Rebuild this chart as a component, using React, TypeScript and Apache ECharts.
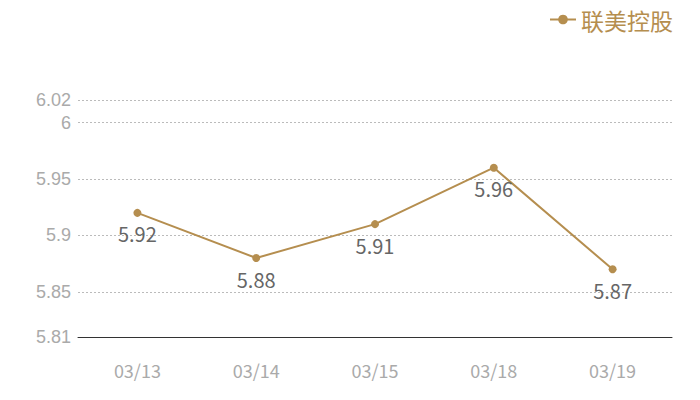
import React, { useEffect, useRef } from "react";
import * as echarts from "echarts";

const categories = ["03/13", "03/14", "03/15", "03/18", "03/19"];
const values = [5.92, 5.88, 5.91, 5.96, 5.87];
const seriesName = "联美控股";
const yMin = 5.81;
const yMax = 6.02;

const GOLD = "#b58e4f";
const FONT = "'Noto Sans CJK SC', 'Noto Sans', sans-serif";
const NUM_FONT = "'Liberation Sans', Arial, sans-serif";

export default function App() {
  const ref = useRef<HTMLDivElement>(null);
  useEffect(() => {
    if (!ref.current) return;
    const chart = echarts.init(ref.current, undefined, { renderer: "svg" });
    chart.setOption({
      animation: false,
      textStyle: { fontFamily: FONT },
      legend: {
        right: 22,
        top: 3,
        itemWidth: 26,
        itemHeight: 12,
        itemGap: 10,
        textStyle: { color: GOLD, fontSize: 23, fontFamily: FONT },
        data: [seriesName],
      },
      grid: { left: 78, right: 28, top: 100, bottom: 63 },
      xAxis: {
        type: "category",
        data: categories,
        boundaryGap: true,
        axisLine: { lineStyle: { color: "#333", width: 1 } },
        axisTick: { show: false },
        axisLabel: { color: "#aaa", fontSize: 18, margin: 24, fontFamily: FONT },
      },
      yAxis: {
        type: "value",
        min: yMin,
        max: yMax,
        axisLine: { show: false },
        axisTick: { show: false },
        axisLabel: { color: "#aaa", fontSize: 18, lineHeight: 18, margin: 7, fontFamily: NUM_FONT },
        splitLine: { lineStyle: { color: "#bbb", type: [2, 2], width: 1 } },
      },
      series: [
        {
          name: seriesName,
          type: "line",
          data: values,
          symbol: "circle",
          symbolSize: 8,
          itemStyle: { color: GOLD },
          lineStyle: { color: GOLD, width: 2 },
          label: {
            show: true,
            position: "bottom",
            distance: 7,
            color: "#666",
            fontSize: 20,
            fontFamily: FONT,
          },
        },
      ],
    });
    return () => chart.dispose();
  }, []);
  return <div ref={ref} style={{ width: 700, height: 400, margin: -8 }} />;
}
